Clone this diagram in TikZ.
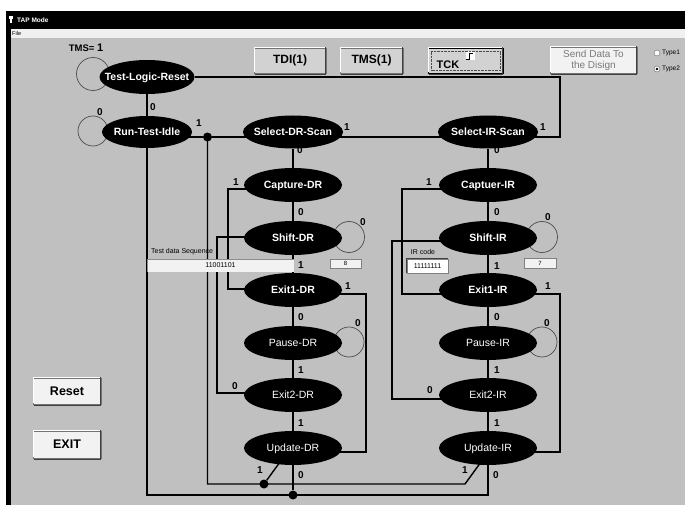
\documentclass[tikz,border=0pt]{standalone}
\usepackage{fontspec}
\setmainfont{Liberation Sans}
\usetikzlibrary{shapes.geometric,calc}
\pgfdeclarelayer{bg}
\pgfsetlayers{bg,main}
\definecolor{winbg}{HTML}{C0C0C0}
\definecolor{menubg}{HTML}{F0F0F0}
\definecolor{btnbg}{HTML}{D2D2D2}
\definecolor{btnlt}{HTML}{F2F2F2}
\definecolor{bevdark}{HTML}{404040}
\definecolor{distext}{HTML}{7A7A7A}
\newcommand\zb[1]{\makebox[0pt]{#1}}
\begin{document}
\begin{tikzpicture}[x=1pt,y=-1pt,
  st/.style={ellipse,fill=black,text=white,inner sep=0pt,minimum width=98pt,minimum height=34pt,
    text height=7.5pt,text depth=0pt,font=\fontsize{10.5}{12}\selectfont\bfseries},
  stm/.style={st,font=\fontsize{10.5}{12}\selectfont},
  wire/.style={line width=1.4pt},
  twire/.style={line width=2.4pt},
  loopc/.style={line width=0.7pt,draw=black!70},
  lb/.style={inner sep=0pt,font=\fontsize{10}{12}\selectfont\bfseries},
  jdot/.style={circle,fill=black,inner sep=0pt,minimum size=9pt},
  btn/.style={rectangle,fill=btnbg,draw=black!55,inner sep=0pt,font=\fontsize{12}{14}\selectfont\bfseries},
  wbtn/.style={btn,fill=btnlt},
  small/.style={inner sep=0pt,font=\fontsize{7}{8}\selectfont},
  field/.style={rectangle,inner sep=0pt,fill=btnlt,draw=black!50,line width=0.5pt,font=\fontsize{7}{8}\selectfont},
]
\useasboundingbox (0,0) rectangle (685,505);

% ---------- states ----------
\node[st,minimum width=95pt] (TLR) at (147,77) {\zb{Test-Logic-Reset}};
\node[st,minimum width=90pt,minimum height=32pt] (RTI) at (147,132) {\zb{Run-Test-Idle}};
\node[st,minimum width=100pt,minimum height=33pt] (SDR) at (293,132) {\zb{Select-DR-Scan}};
\node[st] (CDR) at (293,185) {\zb{Capture-DR}};
\node[st] (ShDR) at (293,238) {\zb{Shift-DR}};
\node[st] (E1DR) at (293,290) {\zb{Exit1-DR}};
\node[stm] (PDR) at (293,343) {\zb{Pause-DR}};
\node[stm] (E2DR) at (293,395) {\zb{Exit2-DR}};
\node[stm] (UDR) at (293,448) {\zb{Update-DR}};
\node[st,minimum width=100pt,minimum height=33pt] (SIR) at (488,132) {\zb{Select-IR-Scan}};
\node[st] (CIR) at (488,185) {\zb{Captuer-IR}};
\node[st] (ShIR) at (488,238) {\zb{Shift-IR}};
\node[st] (E1IR) at (488,290) {\zb{Exit1-IR}};
\node[stm] (PIR) at (488,343) {\zb{Pause-IR}};
\node[stm] (E2IR) at (488,395) {\zb{Exit2-IR}};
\node[stm] (UIR) at (488,448) {\zb{Update-IR}};

% junction dots and corners
\node[jdot] (j1) at (207.5,137) {};
\node[jdot] (j2) at (264,484) {};
\node[jdot] (j3) at (293,495) {};
\coordinate (c1) at (207.5,484);
\coordinate (c2) at (465,484);
\coordinate (c3) at (147,495);
\coordinate (c4) at (488,495);
\coordinate (rtop) at (560,77);

% ---------- widgets ----------
\node[btn,minimum width=72pt,minimum height=25pt] (TDI) at (290,60.5) {TDI(1)};
\node[btn,minimum width=63pt,minimum height=25pt] (TMS) at (371.5,60.5) {TMS(1)};
\node[btn,draw=black,minimum width=75pt,minimum height=25pt] (TCK) at (465.5,60.5) {};
\node[inner sep=0pt,font=\fontsize{11}{13}\selectfont\bfseries] (tcktxt) at (448,65) {TCK};
\node[rectangle,fill=white,inner sep=0pt,minimum size=9pt] (sq) at (470,56) {};
\node[wbtn,minimum width=87pt,minimum height=26pt,font=\fontsize{10}{11}\selectfont,text=distext,align=center] (send) at (593.5,60) {Send Data To\\the Disign};
\node[circle,draw=black!60,fill=white,minimum size=6pt,inner sep=0pt] (r1) at (657,53) {};
\node[circle,draw=black!60,fill=white,minimum size=6pt,inner sep=0pt] (r2) at (657,69) {};
\node[anchor=west,inner sep=0pt,font=\fontsize{6.5}{7}\selectfont] (t1) at (662,53) {Type1};
\node[anchor=west,inner sep=0pt,font=\fontsize{6.5}{7}\selectfont] (t2) at (662,69) {Type2};
\node[wbtn,minimum width=68pt,minimum height=26pt,font=\fontsize{12.5}{14}\selectfont\bfseries] (reset) at (67,391) {Reset};
\node[wbtn,minimum width=68pt,minimum height=27pt,font=\fontsize{12.5}{14}\selectfont\bfseries] (exit) at (67,444.5) {EXIT};

\node[small,anchor=west] (tds) at (151,252) {Test data Sequence};
\node[field,minimum width=147pt,minimum height=13pt,draw=none] (seq) at (220.5,265.5) {11001101};
\node[field,minimum width=31pt,minimum height=9pt,font=\fontsize{6}{7}\selectfont] (cnt1) at (345.5,263.5) {8};
\node[small] (irc) at (423,252) {IR code};
\node[field,fill=white,minimum width=41pt,minimum height=14pt] (ircode) at (427.5,266) {11111111};
\node[field,minimum width=32pt,minimum height=10pt,font=\fontsize{6}{7}\selectfont] (cnt2) at (540,263) {7};

% title and menu text
\node[anchor=west,inner sep=0pt,text=white,font=\fontsize{6.5}{7}\selectfont\bfseries] (title) at (17,20) {TAP Mode};
\node[anchor=west,inner sep=0pt,font=\fontsize{5.5}{6}\selectfont] (menu) at (12,34) {File};

% ---------- transition labels ----------
\node[lb,font=\fontsize{9.5}{11}\selectfont\bfseries] (tmsl) at (86,48) {TMS= {\fontsize{11}{12}\selectfont 1}};
\node[lb] (l1) at (153,107) {0};
\node[lb] (l2) at (100,112) {0};
\node[lb] (l3) at (199,123) {1};
\node[lb] (l4) at (347,127) {1};
\node[lb] (l5) at (543,127) {1};
\node[lb] (l6) at (300,150) {0};
\node[lb] (l7) at (497,150) {0};
\node[lb] (l8) at (236,182) {1};
\node[lb] (l9) at (429,182) {1};
\node[lb] (l10) at (301,212) {0};
\node[lb] (l11) at (497,212) {0};
\node[lb] (l12) at (363,222) {0};
\node[lb] (l13) at (548,217) {0};
\node[lb] (l14) at (301,265) {1};
\node[lb] (l15) at (497,266) {1};
\node[lb] (l16) at (348,286) {1};
\node[lb] (l17) at (548,286) {1};
\node[lb] (l18) at (301,317) {0};
\node[lb] (l19) at (497,317) {0};
\node[lb] (l20) at (358,323) {0};
\node[lb] (l21) at (547,323) {0};
\node[lb] (l22) at (301,370) {1};
\node[lb] (l23) at (497,370) {1};
\node[lb] (l24) at (235,386) {0};
\node[lb] (l25) at (430,390) {0};
\node[lb] (l26) at (301,423) {1};
\node[lb] (l27) at (497,423) {1};
\node[lb] (l28) at (260,470) {1};
\node[lb] (l29) at (465,470) {1};
\node[lb] (l30) at (301,475) {0};
\node[lb] (l31) at (496,475) {0};

% button bevels
\foreach \b in {TDI,TMS,TCK,send,reset,exit}{
  \draw[white,line width=0.8pt] ([shift={(0.8,-0.8)}]\b.south west) |- ([shift={(-0.8,-0.8)}]\b.north east);
  \draw[bevdark,line width=0.9pt] ([shift={(0.8,0.8)}]\b.south west) -| ([shift={(-0.8,-0.8)}]\b.north east);
}
\draw[densely dotted,black!70] ($(TCK.south west)+(3,-3)$) rectangle ($(TCK.north east)+(-3,3)$);
\draw[line width=0.8pt] ($(sq.center)+(-4,3)$) -- ++(3,0) -- ++(0,-6) -- ++(4,0);
\fill (r2) circle[radius=1.3pt];
\draw[bevdark,line width=0.6pt] (ircode.south west) |- (ircode.north east);
\draw[black!45,line width=0.5pt] (seq.south west) |- (seq.north east);

\begin{pgfonlayer}{bg}
  % window
  \fill[white] (0,0) rectangle (685,505);
  \fill[black] (6,11) rectangle (685,29);
  \fill[menubg] (10.5,29) rectangle (685,38);
  \fill[winbg] (10.5,38) rectangle (685,505);
  \fill[black] (6,29) rectangle (10.5,505);
  \fill[white] (9,16) rectangle (13,19);
  \fill[white] (10,19) rectangle (12,23);
  % self loops
  \draw[loopc] ($(TLR)+(-54,-3)$) circle[radius=16.5pt];
  \draw[loopc] ($(RTI)+(-54,-1)$) circle[radius=15pt];
  \draw[loopc] ($(ShDR)+(56,-1)$) circle[radius=15.5pt];
  \draw[loopc] ($(PDR)+(56,-1)$) circle[radius=15pt];
  \draw[loopc] ($(ShIR)+(54,-1)$) circle[radius=15.5pt];
  \draw[loopc] ($(PIR)+(54,-1)$) circle[radius=15pt];
  % main transitions
  \draw[wire] (TLR) -- (RTI);
  \draw[wire] ($(RTI)+(0,5)$) -- (j1) -- ($(SDR)+(0,5)$) -- ($(SIR)+(0,5)$) -| (rtop) -- (TLR);
  \draw[wire] (SDR) -- (CDR) -- (ShDR) -- (E1DR) -- (PDR) -- (E2DR);
  \draw[twire] (E2DR) -- (UDR);
  \draw[wire] (UDR) -- (j3);
  \draw[wire] (SIR) -- (CIR) -- (ShIR) -- (E1IR) -- (PIR) -- (E2IR);
  \draw[twire] (E2IR) -- (UIR);
  % DR side loops
  \draw[wire] ($(CDR)+(0,4)$) -| ($(E1DR)+(-65,-1)$) -- ($(E1DR)+(0,-1)$);
  \draw[wire] ($(E2DR)+(0,-2)$) -| ($(ShDR)+(-76,-1)$) -- ($(ShDR)+(0,-1)$);
  \draw[wire] ($(E1DR)+(0,4)$) -| ($(UDR)+(73,4)$) -- ($(UDR)+(0,4)$);
  % IR side loops
  \draw[wire] ($(CIR)+(0,4)$) -| ($(E1IR)+(-86,4)$) -- ($(E1IR)+(0,4)$);
  \draw[wire] ($(E2IR)+(0,4)$) -| ($(ShIR)+(-96,3)$) -- ($(ShIR)+(0,3)$);
  \draw[wire] ($(E1IR)+(0,4)$) -| ($(UIR)+(72,4)$) -- ($(UIR)+(0,4)$);
  % update returns
  \draw[wire] (j1.center) -- (c1) -- (c2) -- ($(UIR)+(-7,14)$);
  \draw[wire] (j2) -- ($(UDR)+(-13,14)$);
  \draw[wire] (RTI) -- (c3) -- (c4) -- (UIR);
\end{pgfonlayer}
\end{tikzpicture}
\end{document}
